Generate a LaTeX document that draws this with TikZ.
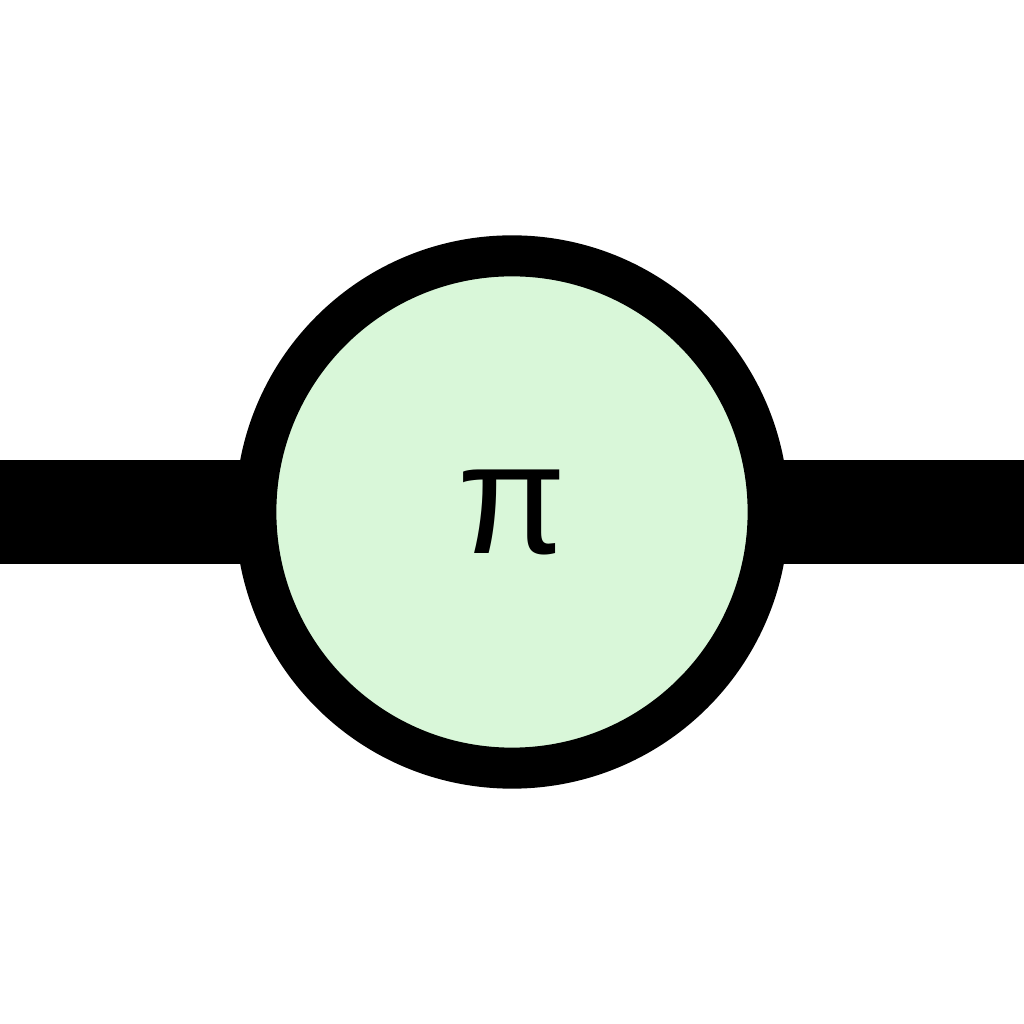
\documentclass[tikz,border=0pt]{standalone}
\usepackage{fontspec}
\newfontfamily\glyphfont{Liberation Sans}
\usetikzlibrary{positioning, backgrounds}
\definecolor{gategreen}{RGB}{217,247,217}

\begin{document}
\begin{tikzpicture}[
            x=0.01cm, y=0.01cm,
            wire/.style={line width=1.03cm},
            gate/.style={circle, draw=black, fill=gategreen, line width=0.41cm, minimum size=5.12cm, inner sep=0pt, font=\glyphfont\fontsize{45}{50}\selectfont}
        ]
            \useasboundingbox (0,0) rectangle (1024,1024);
            \coordinate (in) at (0,512);
            \coordinate (out) at (1024,512);

            \node[gate] (phase) at (512,512) {π};

            \begin{scope}[on background layer]
                \draw[wire] (in) -- (phase.center) -- (out);
            \end{scope}
        \end{tikzpicture}
\end{document}
